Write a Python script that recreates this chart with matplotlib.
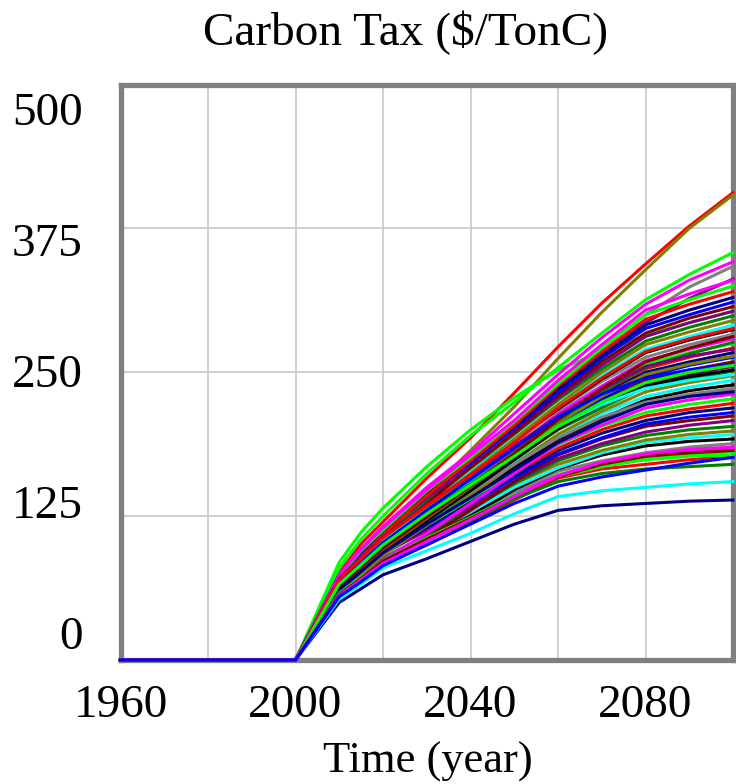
import matplotlib
matplotlib.use("Agg")
import matplotlib.pyplot as plt
from matplotlib.transforms import blended_transform_factory

# ---------------------------------------------------------------- data
YEARS = [1960, 2000, 2010, 2015, 2020, 2030, 2040, 2050, 2060, 2070, 2080, 2090, 2100]

# carbon tax runs (values from 2010 on; zero before)
HIGH_RUNS = [
    [76, 101, 120, 158, 193, 232, 272, 310, 344, 377, 406],
    [70, 92, 110, 145, 182, 220, 262, 302, 339, 375, 404],
    [85, 111, 132, 168, 200, 228, 252, 268, 282, 293, 303],
    [80, 105, 125, 162, 195, 224, 254, 284, 313, 335, 354],
    [74, 97, 116, 150, 180, 214, 248, 280, 309, 330, 346],
    [68, 90, 108, 143, 175, 208, 241, 272, 300, 324, 342],
    [66, 88, 105, 140, 171, 203, 236, 266, 293, 314, 331],
]
HIGH_COLORS = ["#ff0000", "#808000", "#00ff00", "#00ff00", "#ff00ff", "#808080", "#800080"]

LOW_RUNS = [
    [50, 62, 74, 88, 103, 118, 130, 134, 136, 138, 139],
    [53, 66, 80, 95, 110, 127, 142, 147, 150, 153, 155],
    [57, 71, 85, 104, 121, 140, 155, 162, 166, 168, 170],
    [58, 72, 86, 106, 124, 143, 159, 168, 174, 177, 178],
    [57, 71, 86, 105, 123, 142, 159, 170, 177, 180, 182],
    [56, 70, 84, 103, 122, 142, 160, 172, 179, 183, 185],
    [55, 68, 82, 100, 118, 136, 151, 159, 165, 171, 176],
]
LOW_COLORS = ["#000080", "#00ffff", "#008000", "#00ff00", "#800000", "#ff00ff", "#0000ff"]

MID_RUNS = [
    [55, 69, 83, 100, 119, 139, 158, 166, 170, 174, 177],
    [58, 72, 86, 104, 124, 145, 161, 170, 175, 178, 181],
    [63, 79, 94, 112, 128, 145, 160, 172, 179, 182, 184],
    [60, 75, 89, 108, 126, 146, 164, 173, 180, 185, 188],
    [57, 71, 86, 106, 125, 148, 166, 178, 186, 190, 192],
    [59, 74, 88, 109, 129, 150, 167, 180, 189, 193, 196],
    [66, 83, 99, 120, 137, 153, 170, 182, 191, 196, 199],
    [58, 73, 88, 109, 131, 153, 173, 186, 195, 200, 203],
    [62, 77, 92, 113, 133, 155, 175, 188, 198, 204, 208],
    [56, 70, 85, 106, 130, 155, 178, 192, 203, 208, 212],
    [63, 79, 94, 115, 136, 158, 179, 193, 205, 211, 215],
    [60, 76, 92, 116, 138, 160, 182, 197, 208, 215, 219],
    [68, 86, 102, 124, 143, 163, 184, 200, 212, 218, 223],
    [61, 77, 93, 117, 140, 164, 187, 203, 215, 222, 227],
    [58, 72, 87, 110, 136, 162, 188, 204, 219, 226, 231],
    [62, 79, 95, 119, 143, 168, 191, 209, 223, 230, 235],
    [66, 83, 98, 122, 144, 167, 192, 210, 226, 234, 239],
    [63, 80, 97, 121, 146, 171, 195, 214, 229, 237, 243],
    [60, 75, 91, 117, 143, 170, 196, 216, 233, 241, 247],
    [64, 81, 98, 124, 149, 174, 200, 219, 237, 244, 251],
    [72, 90, 107, 133, 155, 178, 201, 222, 239, 248, 255],
    [65, 82, 100, 126, 152, 178, 204, 225, 243, 252, 259],
    [69, 86, 103, 129, 153, 178, 205, 227, 246, 256, 263],
    [61, 77, 94, 121, 149, 178, 208, 231, 250, 259, 267],
    [70, 88, 104, 132, 156, 182, 209, 233, 253, 263, 271],
    [67, 85, 103, 131, 158, 185, 213, 236, 257, 267, 275],
    [64, 80, 97, 126, 155, 184, 214, 238, 260, 270, 279],
    [68, 87, 105, 133, 161, 189, 217, 242, 263, 274, 283],
    [74, 94, 112, 140, 165, 191, 218, 244, 267, 278, 287],
    [69, 88, 106, 136, 164, 192, 221, 247, 270, 281, 291],
    [66, 84, 101, 133, 162, 192, 222, 250, 274, 285, 295],
    [70, 90, 108, 139, 167, 196, 226, 253, 277, 289, 299],
    [73, 93, 111, 141, 168, 197, 228, 256, 281, 293, 303],
    [67, 86, 104, 136, 167, 198, 230, 259, 284, 297, 307],
    [74, 94, 112, 144, 171, 201, 232, 262, 288, 300, 311],
    [72, 93, 111, 144, 173, 203, 235, 264, 291, 304, 315],
    [70, 90, 109, 143, 173, 204, 238, 268, 296, 309, 320],
    [73, 95, 113, 147, 176, 207, 240, 271, 300, 313, 325],
    [74, 96, 115, 148, 178, 208, 243, 274, 304, 318, 330],
    [65, 82, 98, 123, 146, 170, 193, 211, 224, 231, 236],
    [62, 78, 95, 121, 147, 174, 201, 222, 238, 246, 252],
    [69, 87, 104, 130, 154, 179, 203, 222, 236, 243, 248],
    [63, 80, 96, 123, 150, 178, 206, 229, 248, 257, 264],
    [67, 84, 101, 128, 153, 180, 208, 233, 254, 266, 276],
    [71, 89, 107, 135, 160, 186, 212, 235, 255, 264, 270],
    [64, 81, 97, 124, 151, 179, 209, 236, 259, 271, 281],
    [68, 85, 102, 130, 157, 184, 211, 231, 245, 252, 257],
    [61, 77, 93, 118, 141, 165, 189, 207, 222, 229, 233],
    [70, 88, 106, 134, 161, 189, 219, 245, 268, 279, 288],
    [66, 83, 100, 127, 152, 177, 203, 224, 241, 250, 256],
]
MID_PALETTE = ["#ff0000", "#00ff00", "#ff00ff", "#808080", "#000000", "#00ffff",
               "#808000", "#008000", "#800080", "#800000", "#0000ff", "#000080"]

X_TICKS = [1960, 2000, 2040, 2080]
X_GRID = [1980, 2000, 2020, 2040, 2060, 2080]
Y_TICKS = [0, 125, 250, 375, 500]

TITLE = "Carbon Tax ($/TonC)"
XLABEL = "Time (year)"

# ---------------------------------------------------------------- figure
W, H = 736, 784
plt.rcParams["font.family"] = ["Liberation Serif", "DejaVu Serif"]

fig = plt.figure(figsize=(W / 100, H / 100), dpi=100)
ax = fig.add_axes([120.5 / W, 1 - 660 / H, (733 - 120.5) / W, (660 - 84.5) / H])

runs = ([(r, c) for r, c in zip(HIGH_RUNS, HIGH_COLORS)]
        + [(r, MID_PALETTE[i % len(MID_PALETTE)]) for i, r in enumerate(MID_RUNS)]
        + [(r, c) for r, c in zip(LOW_RUNS, LOW_COLORS)])
for vals, col in runs:
    ax.plot(YEARS, [0, 0] + vals, color=col, lw=2.2, zorder=3, clip_on=False,
            solid_joinstyle="round")

ax.set_xlim(1960, 2100)
ax.set_ylim(0, 500)

# grid
for x in X_GRID:
    ax.axvline(x, color="#c8c8c8", lw=1.2, zorder=1)
for y in Y_TICKS[1:-1]:
    ax.axhline(y, color="#c8c8c8", lw=1.2, zorder=1)

for sp in ax.spines.values():
    sp.set_color("#808080")
    sp.set_linewidth(3.8)
    sp.set_zorder(2.5)

ax.set_xticks([])
ax.set_yticks([])

# x labels under the grid lines
xtrans = blended_transform_factory(ax.transData, fig.transFigure)
for x in X_TICKS:
    ax.text(x, 1 - 717 / H, str(x), transform=xtrans, ha="center", va="baseline",
            fontsize=34)

# vensim spreads the y labels evenly inside the axis range
for i, v in enumerate(Y_TICKS[::-1]):
    ypx = 125 + i * 131
    fig.text(83 / W, 1 - ypx / H, str(v), ha="right", va="baseline", fontsize=34)

fig.text(406 / W, 1 - 45 / H, TITLE, ha="center", va="baseline", fontsize=34)
fig.text(428 / W, 1 - 773 / H, XLABEL, ha="center", va="baseline", fontsize=32)

fig.savefig("out.png", dpi=100)
